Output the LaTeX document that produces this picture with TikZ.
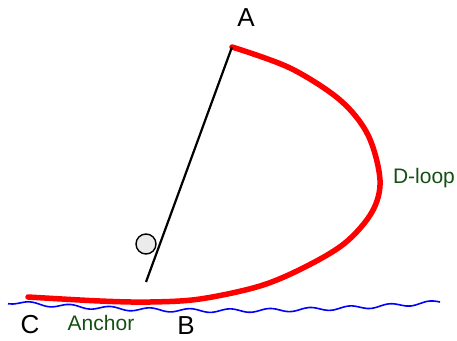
\documentclass[tikz,border=0pt]{standalone}
\usepackage{fontspec}
\setmainfont{Liberation Sans}
\begin{document}
\begin{tikzpicture}[x=1pt,y=-1pt,
  lbl/.style={font=\fontsize{26}{28}\selectfont, text=black, inner sep=0pt},
  glbl/.style={font=\fontsize{21}{23}\selectfont, text={rgb,255:red,20;green,80;blue,20}, inner sep=0pt},
  rope/.style={red, line width=5.5pt, line cap=round, line join=round},
  ground/.style={blue, line width=1.6pt}]
\useasboundingbox (0,0) rectangle (457,340);
% ground (wavy)
\draw[ground] plot[smooth, domain=8:440, samples=90] (\x,{302+0.02*(\x-8)*(1-(\x-8)/432)*1.0*4 + 1.8*sin(\x*9)});
% rope
\coordinate (top) at (232,47);
\coordinate (bot) at (146,282);
\draw[rope] plot[smooth, tension=0.55] coordinates {(232,47) (290,68) (340,100) (368,135) (380,180) (372,212) (345,243) (305,267) (260,286) (200,299) (150,302) (100,301) (28,297)};
% black line (pole)
\draw[black, line width=2.2pt] (top) -- (bot);
% ball
\node[circle, draw=black, line width=1.4pt, fill={rgb,255:red,235;green,235;blue,235}, minimum size=20pt, inner sep=0pt] (ball) at (146,244) {};
% labels
\node[lbl] (A) at (246,18) {A};
\node[lbl] (C) at (30,325) {C};
\node[lbl] (B) at (186,326) {B};
\node[glbl] (anchor) at (101,323) {Anchor};
\node[glbl] (dloop) at (424,178) {D-loop};
\end{tikzpicture}
\end{document}
